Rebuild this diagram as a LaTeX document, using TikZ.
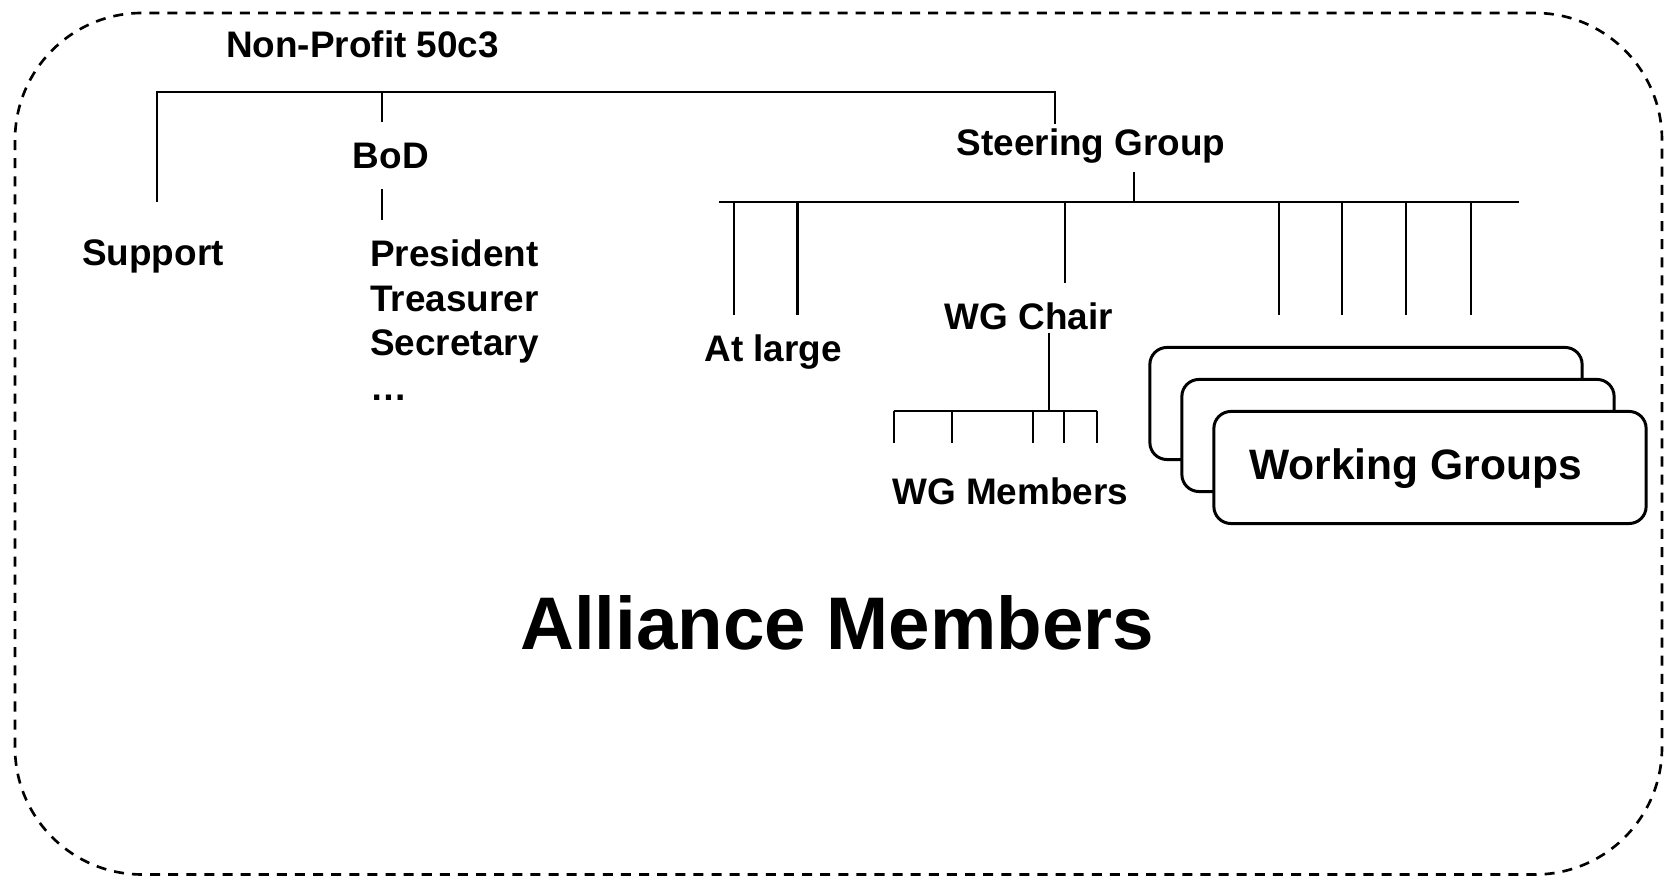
\documentclass[tikz,border=0pt]{standalone}
\usepackage{fontspec}
\setmainfont{Liberation Sans}
\usetikzlibrary{positioning}

\tikzset{
  orgtext/.style={font=\fontsize{10.5}{12.7}\selectfont\bfseries, inner sep=0pt, anchor=base},
  orgline/.style={line width=0.57pt},
  wgbox/.style={draw, line width=0.85pt, rounded corners=0.17cm, fill=white,
    minimum width=4.32cm, minimum height=1.12cm, inner sep=0pt},
}

\begin{document}
\begin{tikzpicture}[x=0.01cm, y=-0.01cm]
        \useasboundingbox (0,0) rectangle (1665,877);
        % Draw the dashed alliance frame
        \draw[line width=0.75pt, dash pattern=on 2.85pt off 2.3pt, rounded corners=1.27cm]
            (15,13) rectangle (1662,874.5);

        % Labels
        \node[orgtext] (np) at (362.6,58) {Non-Profit 50c3};
        \node[orgtext] (bod) at (390.8,169) {BoD};
        \node[orgtext] (support) at (152.9,265.5) {Support};
        \node[orgtext, anchor=north west, align=left] (officers) at (369.6,239)
            {President\\Treasurer\\Secretary\\…};
        \node[orgtext] (steer) at (1091.1,155.5) {Steering Group};
        \node[orgtext] (atlarge) at (773.1,361.5) {At large};
        \node[orgtext] (wgchair) at (1029,329.6) {WG Chair};
        \node[orgtext] (wgmembers) at (1010.4,505) {WG Members};

        % Stack of working group boxes
        \node[wgbox] (wgA) at (1366,403.5) {};
        \node[wgbox] (wgB) at ([shift={(32,32)}]wgA) {};
        \node[wgbox] (wgC) at ([shift={(32,32)}]wgB) {};
        \node[orgtext, font=\fontsize{12.1}{14.5}\selectfont\bfseries] (wgtitle)
            at (1415.5,479.5) {Working Groups};

        \node[orgtext, font=\fontsize{21.2}{25.4}\selectfont\bfseries] (alliance)
            at (837.3,650) {Alliance Members};

        % Non-Profit bracket
        \coordinate (npL) at (157.2,92.4);
        \coordinate (npM) at (382.3,92.4);
        \coordinate (npR) at (1054.5,92.4);
        \coordinate (supEnd) at (157.2,201.8);
        \coordinate (bodEnd) at (382.3,122);
        \coordinate (steerEnd) at (1054.5,124);
        \draw[orgline] (supEnd) -- (npL) -- (npR) -- (steerEnd);
        \draw[orgline] (npM) -- (bodEnd);
        \coordinate (bodLoA) at (382.3,189);
        \coordinate (bodLoB) at (382.3,219.8);
        \draw[orgline] (bodLoA) -- (bodLoB);

        % Steering Group bracket
        \coordinate (sgTop) at (1134.1,172);
        \coordinate (sgL) at (718.9,201.8);
        \coordinate (sgR) at (1518.5,201.8);
        \draw[orgline] (sgTop) -- (sgTop |- sgL);
        \draw[orgline] (sgL) -- (sgR);
        \foreach \x [count=\i] in {733.8,797.5,1278.5,1342.2,1406,1470.7} {
            \coordinate (sgD\i) at (\x,315.4);
            \draw[orgline] (sgD\i |- sgL) -- (sgD\i);
        }
        \coordinate (chairEnd) at (1065.1,283.5);
        \draw[orgline] (chairEnd |- sgL) -- (chairEnd);

        % WG Chair bracket
        \coordinate (wgcTop) at (1049.2,333);
        \coordinate (wgmL) at (893.5,411);
        \coordinate (wgmR) at (1096.5,411);
        \draw[orgline] (wgcTop) -- (wgcTop |- wgmL);
        \draw[orgline] (wgmL) -- (wgmR);
        \foreach \x [count=\i] in {893.5,952.3,1032.8,1064,1096.5} {
            \coordinate (wgmD\i) at (\x,443.5);
            \draw[orgline] (wgmD\i |- wgmL) -- (wgmD\i);
        }
    \end{tikzpicture}
\end{document}
